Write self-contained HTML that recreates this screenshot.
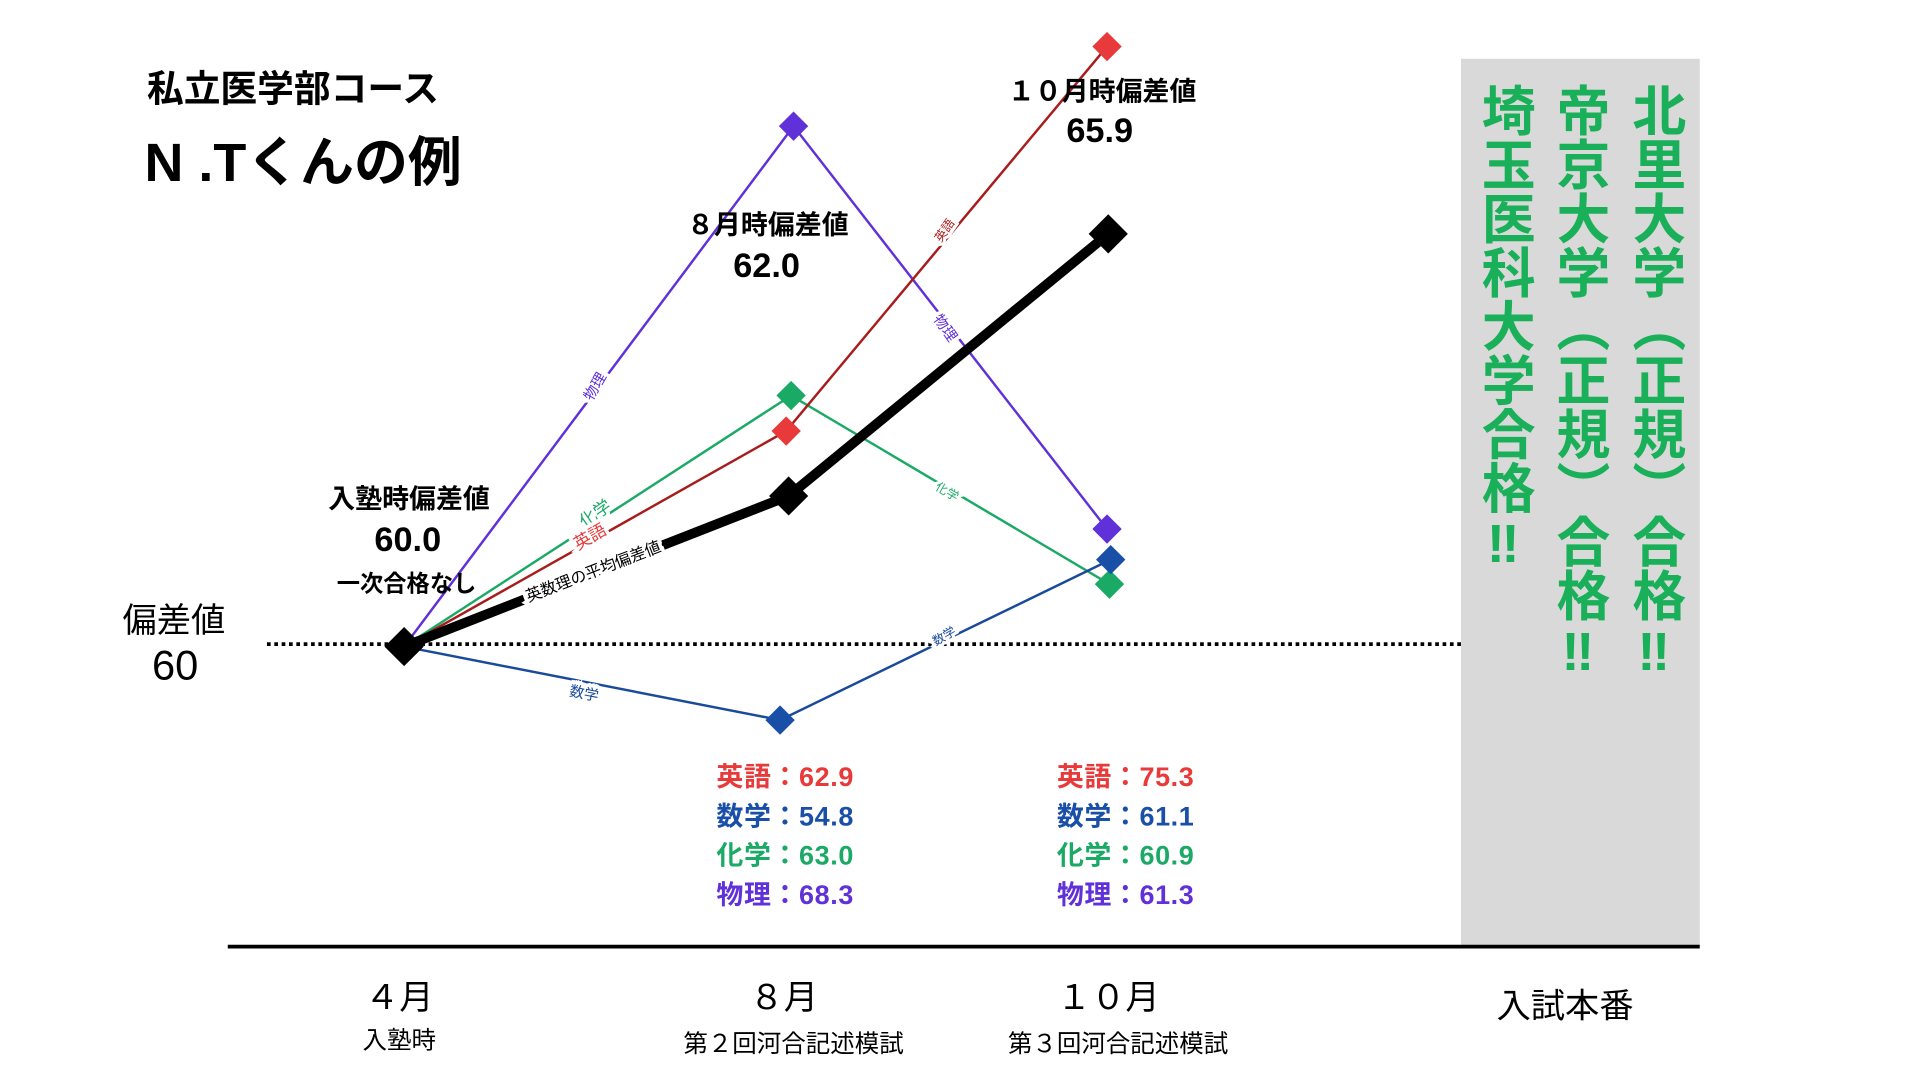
<!DOCTYPE html>
<html><head><meta charset="utf-8"><style>
html,body{margin:0;padding:0;background:#fff;width:1920px;height:1080px;overflow:hidden}
#c{position:absolute;left:0;top:0;width:1568px;height:882px;transform:scale(1.2246);transform-origin:0 0;font-family:"Liberation Sans","Noto Sans CJK JP",sans-serif}
.t{position:absolute;white-space:nowrap;font-weight:bold}
.cx{transform:translateX(-50%)}
.v{position:absolute;writing-mode:vertical-rl;font-weight:bold;color:#1ab05a;font-size:44px;line-height:1;letter-spacing:0px}
svg{position:absolute;left:0;top:0}
</style></head><body><div id="c">
<div style="position:absolute;left:1193px;top:48px;width:195px;height:724px;background:#d9d9d9"></div>
<svg width="1550" height="872" viewBox="0 0 1550 872">
<line x1="218" y1="526" x2="1193" y2="526" stroke="#000" stroke-width="3" stroke-dasharray="3,3"/>
<line x1="186" y1="773" x2="1388" y2="773" stroke="#000" stroke-width="3"/>
<polyline points="330,528 648,103 904,432" fill="none" stroke="#6030d8" stroke-width="2"/>
<polyline points="330,528 646,323 906,477" fill="none" stroke="#1aaa66" stroke-width="2"/>
<polyline points="330,528 642,352 904,38" fill="none" stroke="#a81c1c" stroke-width="2"/>
<polyline points="330,528 637,588 907,457" fill="none" stroke="#1a4a9a" stroke-width="2"/>
<polyline points="330,528 644,405 905,191" fill="none" stroke="#000" stroke-width="8"/>
<g>
<path d="M648,91 l12,12 -12,12 -12,-12z" fill="#6030d8"/>
<path d="M904,420 l12,12 -12,12 -12,-12z" fill="#6030d8"/>
<path d="M646,311 l12,12 -12,12 -12,-12z" fill="#1aaa66"/>
<path d="M906,465 l12,12 -12,12 -12,-12z" fill="#1aaa66"/>
<path d="M642,340 l12,12 -12,12 -12,-12z" fill="#e83a3a"/>
<path d="M904,26 l12,12 -12,12 -12,-12z" fill="#e83a3a"/>
<path d="M637,576 l12,12 -12,12 -12,-12z" fill="#1a4fa8"/>
<path d="M907,445 l12,12 -12,12 -12,-12z" fill="#1a4fa8"/>
<path d="M644,389 l16,16 -16,16 -16,-16z" fill="#000"/>
<path d="M905,175 l16,16 -16,16 -16,-16z" fill="#000"/>
<path d="M330,512 l16,16 -16,16 -16,-16z" fill="#000"/>
</g>
<g font-family="Liberation Sans,Noto Sans CJK JP,sans-serif" font-size="12">
<text x="430" y="492" transform="rotate(-21 430 488)" font-size="13" stroke="#fff" stroke-width="6" paint-order="stroke" fill="#000">英数理の平均偏差値</text>
<text x="465" y="568" transform="rotate(11 465 565)" fill="#1a4a9a" stroke="#fff" stroke-width="6" paint-order="stroke">数学</text>
<text x="480" y="330" transform="rotate(-60 480 326)" fill="#6030d8" stroke="#fff" stroke-width="6" paint-order="stroke">物理</text>
<text x="475" y="432" transform="rotate(-35 475 428)" fill="#1aaa66" font-size="14" stroke="#fff" stroke-width="6" paint-order="stroke">化学</text>
<text x="470" y="450" transform="rotate(-30 470 446)" fill="#e83a3a" font-size="14" stroke="#fff" stroke-width="6" paint-order="stroke">英語</text>
<text x="765" y="200" transform="rotate(-55 765 196)" fill="#a81c1c" font-size="10" stroke="#fff" stroke-width="5" paint-order="stroke">英語</text>
<text x="765" y="262" transform="rotate(55 765 258)" fill="#6030d8" stroke="#fff" stroke-width="6" paint-order="stroke">物理</text>
<text x="765" y="400" transform="rotate(30 765 396)" fill="#1aaa66" font-size="10" stroke="#fff" stroke-width="5" paint-order="stroke">化学</text>
<text x="762" y="528" transform="rotate(-30 762 524)" fill="#1a4a9a" font-size="10" stroke="#fff" stroke-width="5" paint-order="stroke">数学</text>
</g>
</svg>
<div class="t" style="left:120px;top:48px;font-size:30px">私立医学部コース</div>
<div class="t" style="left:118px;top:97px;font-size:44px">N .Tくんの例</div>
<div class="t cx" style="left:627px;top:166px;font-size:22px">８月時偏差値</div>
<div class="t cx" style="left:626px;top:201px;font-size:28px">62.0</div>
<div class="t cx" style="left:900px;top:57px;font-size:22px">１０月時偏差値</div>
<div class="t cx" style="left:898px;top:91px;font-size:28px">65.9</div>
<div class="t cx" style="left:334px;top:390px;font-size:22px">入塾時偏差値</div>
<div class="t cx" style="left:333px;top:425px;font-size:28px">60.0</div>
<div class="t cx" style="left:332px;top:462px;font-size:19px">一次合格なし</div>
<div class="t" style="left:100px;top:485px;font-size:28px;font-weight:normal">偏差値</div>
<div class="t cx" style="left:143px;top:525px;font-size:34px;font-weight:normal">60</div>
<div class="t" style="left:585px;top:619px;font-size:22px;line-height:32px;letter-spacing:0.5px"><span style="color:#e83a3a">英語：62.9</span><br><span style="color:#1a4fa8">数学：54.8</span><br><span style="color:#1aaa66">化学：63.0</span><br><span style="color:#6030d8">物理：68.3</span></div>
<div class="t" style="left:863px;top:619px;font-size:22px;line-height:32px;letter-spacing:0.5px"><span style="color:#e83a3a">英語：75.3</span><br><span style="color:#1a4fa8">数学：61.1</span><br><span style="color:#1aaa66">化学：60.9</span><br><span style="color:#6030d8">物理：61.3</span></div>
<div class="t cx" style="left:326px;top:793px;font-size:28px;font-weight:normal">４月</div>
<div class="t cx" style="left:326px;top:833px;font-size:20px;font-weight:normal">入塾時</div>
<div class="t cx" style="left:640px;top:793px;font-size:28px;font-weight:normal">８月</div>
<div class="t cx" style="left:648px;top:836px;font-size:20px;font-weight:normal">第２回河合記述模試</div>
<div class="t cx" style="left:905px;top:793px;font-size:28px;font-weight:normal">１０月</div>
<div class="t cx" style="left:913px;top:836px;font-size:20px;font-weight:normal">第３回河合記述模試</div>
<div class="t cx" style="left:1278px;top:800px;font-size:28px;font-weight:normal">入試本番</div>
<div class="v" style="left:1328px;top:68px">北里大学（正規）合格‼</div>
<div class="v" style="left:1266px;top:68px">帝京大学（正規）合格‼</div>
<div class="v" style="left:1205px;top:68px">埼玉医科大学合格‼</div>
</div></body></html>
